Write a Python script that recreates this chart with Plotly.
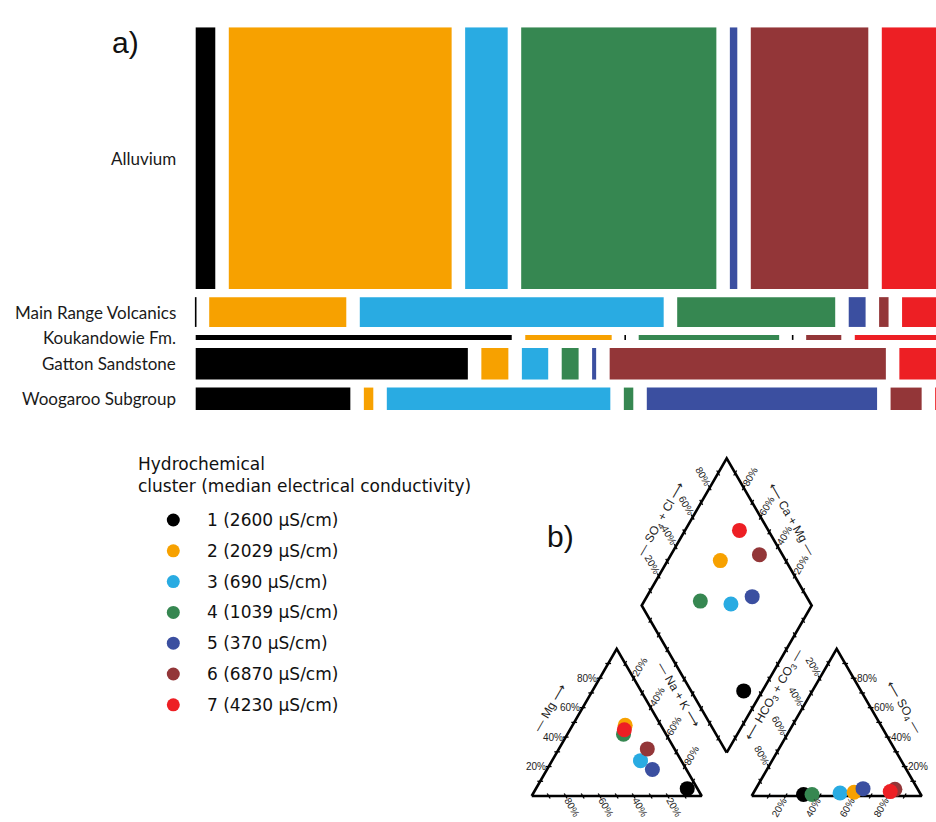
import numpy as np
import plotly.graph_objects as go

# ---------------------------------------------------------------
# Data
# ---------------------------------------------------------------
formations = ["Alluvium", "Main Range Volcanics", "Koukandowie Fm.",
              "Gatton Sandstone", "Woogaroo Subgroup"]
formation_share = [74.7, 8.5, 1.4, 9.0, 6.4]          # % of all samples

cluster_ids = [1, 2, 3, 4, 5, 6, 7]
median_ec = [2600, 2029, 690, 1039, 370, 6870, 4230]  # µS/cm
cluster_colors = ["#000000", "#F7A100", "#29ABE2", "#368751",
                  "#3B4FA0", "#933638", "#ED1F24"]

# % of each formation's samples falling in clusters 1..7
share_alluvium = [2.9, 33.0, 6.3, 28.9, 1.1, 17.4, 10.4]
share_mrv = [0.0, 20.3, 45.0, 23.4, 2.5, 1.4, 7.4]
share_kouk = [46.8, 12.8, 0.0, 20.8, 0.0, 5.2, 14.4]
share_gatton = [40.3, 4.0, 3.9, 2.5, 0.6, 40.9, 7.8]
share_woogaroo = [22.9, 1.4, 33.1, 1.4, 34.1, 4.6, 2.5]

# Median major-ion composition per cluster (% meq)
ca = [6, 21, 24, 25, 20, 16, 23]
mg = [5, 48, 24, 42, 18, 32, 45]
na_k = [89, 31, 52, 33, 62, 52, 32]
cl = [30, 59, 51, 35, 63, 82, 80]
so4 = [1, 2.5, 2, 1, 5, 4.5, 3]
hco3_co3 = [69, 38.5, 47, 64, 32, 13.5, 17]

W, H_PX = 936, 822
FONT = "Liberation Sans, Arial, sans-serif"
LEGEND_FONT = "DejaVu Sans, Liberation Sans, sans-serif"
LABEL_FONT = "Lato, sans-serif"

fig = go.Figure()

# ---------------------------------------------------------------
# a) mosaic plot
# ---------------------------------------------------------------
GAP_X = 0.02
GAP_Y = 2.3
S_X = 675.3           # px per unit of row width
rows = [share_alluvium, share_mrv, share_kouk, share_gatton, share_woogaroo]

row_top = []
yy = 0.0
for h in formation_share:
    row_top.append(yy)
    yy += h + GAP_Y
total_y = yy - GAP_Y

starts = []
for shares in rows:
    pos, s = 0.0, []
    for v in shares:
        s.append(pos)
        pos += v / 100 + GAP_X
    starts.append(s)

for j, cid in enumerate(cluster_ids):
    ys, xs, bases, hs = [], [], [], []
    for i, shares in enumerate(rows):
        if shares[j] > 0:
            ys.append(row_top[i] + formation_share[i] / 2)
            xs.append(shares[j] / 100)
            bases.append(starts[i][j])
            hs.append(formation_share[i])
    fig.add_trace(go.Bar(orientation="h", y=ys, x=xs, base=bases, width=hs,
                         marker=dict(color=cluster_colors[j], line=dict(width=0)),
                         showlegend=False, hoverinfo="skip",
                         xaxis="x", yaxis="y"))

# empty cells drawn as thin black strokes
zx, zy = [], []
for i, shares in enumerate(rows):
    for j, v in enumerate(shares):
        if v == 0:
            x0 = starts[i][j]
            zx += [x0, x0, None]
            zy += [row_top[i], row_top[i] + formation_share[i], None]
fig.add_trace(go.Scatter(x=zx, y=zy, mode="lines",
                         line=dict(color="black", width=1.6),
                         showlegend=False, hoverinfo="skip",
                         xaxis="x", yaxis="y"))

for i, name in enumerate(formations):
    fig.add_annotation(x=178 / W, xref="paper", y=row_top[i] + formation_share[i] / 2,
                       yref="y", text=name, showarrow=False, xanchor="right",
                       yanchor="middle",
                       font=dict(family=LABEL_FONT, size=17, color="#1a1a1a"))

# ---------------------------------------------------------------
# b) Piper diagram
# ---------------------------------------------------------------
H = np.sqrt(3) / 2
GAP = 0.294
SCALE = 170.0                    # px per unit side
ORIGIN = (531.7, 796.0)          # px position of the Ca vertex

BX, BY = 1 + GAP / 2, H * GAP    # diamond bottom vertex
R0 = 1 + GAP                     # anion triangle left vertex


def cation_xy(c, m, n):
    t = c + m + n
    return n / t + 0.5 * m / t, H * m / t


def anion_xy(c, s, h):
    t = c + s + h
    return R0 + c / t + 0.5 * s / t, H * s / t


def diamond_xy(camg, so4cl):
    return BX + 0.5 * (so4cl - camg), BY + H * (camg + so4cl)


# frame
fx = [0, 1, 0.5, 0, None,
      R0, R0 + 1, R0 + 0.5, R0, None,
      BX, BX - 0.5, BX, BX + 0.5, BX]
fy = [0, 0, H, 0, None,
      0, 0, H, 0, None,
      BY, BY + H, BY + 2 * H, BY + H, BY]
fig.add_trace(go.Scatter(x=fx, y=fy, mode="lines",
                         line=dict(color="black", width=2.6),
                         showlegend=False, hoverinfo="skip",
                         xaxis="x2", yaxis="y2"))

# axes of the diagram: point on edge for fraction t, outward direction,
# label rotation, whether labelled
edges = [
    (lambda t: (0.5 * t, H * t), (-1.0, 0.0), 0, True),                    # Mg
    (lambda t: (1 - t, 0.0), (0.5, -H), 60, True),                          # Ca
    (lambda t: (0.5 + 0.5 * t, H * (1 - t)), (0.5, H), -60, True),          # Na+K
    (lambda t: (R0 + t, 0.0), (-0.5, -H), -60, True),                       # Cl
    (lambda t: (R0 + 1 - 0.5 * t, H * t), (1.0, 0.0), 0, True),             # SO4
    (lambda t: (R0 + 0.5 * (1 - t), H * (1 - t)), (-0.5, H), 60, True),     # HCO3+CO3
    (lambda t: (BX - 0.5 + 0.5 * t, BY + H + H * t), (-0.5, H), 60, True),  # SO4+Cl
    (lambda t: (BX + 0.5 - 0.5 * t, BY + H + H * t), (0.5, H), -60, True),  # Ca+Mg
    (lambda t: (BX - 0.5 * t, BY + H * t), (-0.5, -H), 0, False),
    (lambda t: (BX + 0.5 * t, BY + H * t), (0.5, -H), 0, False),
]
TICK = 0.017
LBL = 0.077
tx, ty = [], []
for f, (dx, dy), ang, labelled in edges:
    for k in range(1, 10):
        t = k / 10
        px, py = f(t)
        tx += [px - TICK * dx, px + TICK * dx, None]
        ty += [py - TICK * dy, py + TICK * dy, None]
        if labelled and k % 2 == 0:
            fig.add_annotation(x=px + LBL * dx, y=py + LBL * dy, xref="x2", yref="y2",
                               text=f"{k * 10}%", showarrow=False, textangle=ang,
                               xanchor="center", yanchor="middle",
                               font=dict(family=FONT, size=10, color="#222"))
fig.add_trace(go.Scatter(x=tx, y=ty, mode="lines",
                         line=dict(color="black", width=1.3),
                         showlegend=False, hoverinfo="skip",
                         xaxis="x2", yaxis="y2"))

# axis titles
TD = 0.165
titles = [
    ((0.25 - H * TD, H / 2 + 0.5 * TD), -60, "— Mg ⟶"),
    ((0.5, -TD), 0, "⟵ Ca —"),
    ((R0 + 0.75 + H * TD, H / 2 + 0.5 * TD), 60, "⟵ SO<sub>4</sub> —"),
    ((R0 + 0.5, -TD), 0, "— Cl ⟶"),
    ((BX - 0.25 - H * 0.075 + 0.5 * 0.065, BY + H / 2 - 0.5 * 0.075 - H * 0.065),
     60, "— Na + K ⟶"),
    ((BX + 0.25 + H * 0.075 - 0.5 * 0.065, BY + H / 2 - 0.5 * 0.075 - H * 0.065),
     -60, "⟵ HCO<sub>3</sub> + CO<sub>3</sub> —"),
    ((BX - 0.25 - H * 0.152, BY + 1.5 * H + 0.5 * 0.152), -60,
     "— SO<sub>4</sub> + Cl ⟶"),
    ((BX + 0.25 + H * 0.152, BY + 1.5 * H + 0.5 * 0.152), 60, "⟵ Ca + Mg —"),
]
for (x, y), ang, txt in titles:
    fig.add_annotation(x=x, y=y, xref="x2", yref="y2", text=txt, showarrow=False,
                       textangle=ang, xanchor="center", yanchor="middle",
                       font=dict(family=FONT, size=12, color="#222"))

# cluster medians, drawn so later clusters sit on top
draw_order = [1, 3, 4, 2, 5, 6, 7]
for cid in draw_order:
    j = cluster_ids.index(cid)
    cx, cy = cation_xy(ca[j], mg[j], na_k[j])
    ax, ay = anion_xy(cl[j], so4[j], hco3_co3[j])
    camg = (ca[j] + mg[j]) / (ca[j] + mg[j] + na_k[j])
    so4cl = (so4[j] + cl[j]) / (so4[j] + cl[j] + hco3_co3[j])
    dx, dy = diamond_xy(camg, so4cl)
    fig.add_trace(go.Scatter(x=[cx, ax, dx], y=[cy, ay, dy], mode="markers",
                             marker=dict(size=15, color=cluster_colors[j],
                                         line=dict(width=0)),
                             showlegend=False, hoverinfo="skip",
                             xaxis="x2", yaxis="y2"))

# ---------------------------------------------------------------
# Legend (pixel-space helper axes)
# ---------------------------------------------------------------
LEG_Y0, LEG_DY = 520.0, 30.8
fig.add_trace(go.Scatter(x=[173.3] * len(cluster_ids),
                         y=[LEG_Y0 + LEG_DY * i for i in range(len(cluster_ids))],
                         mode="markers",
                         marker=dict(size=13, color=cluster_colors, line=dict(width=0)),
                         showlegend=False, hoverinfo="skip",
                         xaxis="x3", yaxis="y3"))
for i, cid in enumerate(cluster_ids):
    fig.add_annotation(x=205, y=LEG_Y0 + LEG_DY * i, xref="x3", yref="y3",
                       text=f"{cid} ({median_ec[i]} µS/cm)", showarrow=False,
                       xanchor="left", yanchor="middle",
                       font=dict(family=LEGEND_FONT, size=17, color="#111"))
fig.add_annotation(x=136, y=475, xref="x3", yref="y3",
                   text="Hydrochemical<br>cluster (median electrical conductivity)",
                   showarrow=False, xanchor="left", yanchor="middle", align="left",
                   font=dict(family=LEGEND_FONT, size=17, color="#111"))

# panel letters
fig.add_annotation(x=125, y=42, xref="x3", yref="y3", text="a)", showarrow=False,
                   font=dict(family=FONT, size=30, color="#111"))
fig.add_annotation(x=560, y=536, xref="x3", yref="y3", text="b)", showarrow=False,
                   font=dict(family=FONT, size=30, color="#111"))

# ---------------------------------------------------------------
# Layout
# ---------------------------------------------------------------
hidden = dict(visible=False, showgrid=False, zeroline=False, fixedrange=True)
fig.update_layout(
    width=W, height=H_PX, margin=dict(l=0, r=0, t=0, b=0),
    paper_bgcolor="white", plot_bgcolor="rgba(0,0,0,0)",
    barmode="overlay", showlegend=False,
    xaxis=dict(domain=[194 / W, 1], range=[(194 - 195.7) / S_X, (W - 195.7) / S_X],
               anchor="y", **hidden),
    yaxis=dict(domain=[(H_PX - 410) / H_PX, (H_PX - 27.3) / H_PX],
               range=[total_y, 0], anchor="x", **hidden),
    xaxis2=dict(domain=[500 / W, 1],
                range=[(500 - ORIGIN[0]) / SCALE, (W - ORIGIN[0]) / SCALE],
                anchor="y2", **hidden),
    yaxis2=dict(domain=[0, (H_PX - 440) / H_PX],
                range=[(ORIGIN[1] - H_PX) / SCALE, (ORIGIN[1] - 440) / SCALE],
                anchor="x2", **hidden),
    xaxis3=dict(domain=[0, 1], range=[0, W], anchor="y3", **hidden),
    yaxis3=dict(domain=[0, 1], range=[H_PX, 0], anchor="x3", **hidden),
)

fig.write_html("out.html")
